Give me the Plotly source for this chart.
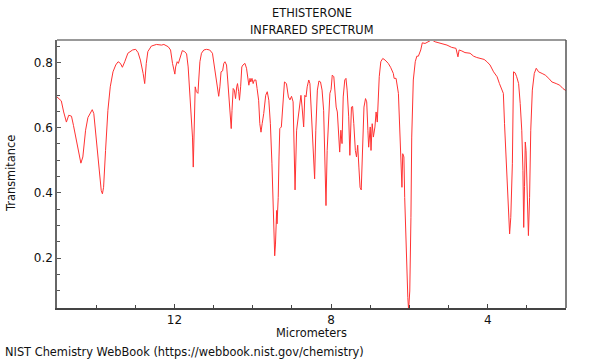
import plotly.graph_objects as go

# Wavelength (micrometers) and transmittance
wavelength_um = [
    15.00, 14.89, 14.83, 14.76, 14.70, 14.63, 14.58, 14.51, 14.44, 14.39, 14.34, 14.27, 14.21, 14.15, 14.10,
    14.06, 14.00, 13.93, 13.87, 13.84, 13.81, 13.76, 13.70, 13.64, 13.57, 13.50, 13.44, 13.38, 13.33, 13.27,
    13.19, 13.07, 12.99, 12.93, 12.87, 12.80, 12.76, 12.72, 12.68, 12.59, 12.46, 12.33, 12.27, 12.16, 12.10,
    12.05, 11.99, 11.97, 11.93, 11.90, 11.85, 11.80, 11.74, 11.69, 11.65, 11.61, 11.58, 11.54, 11.52, 11.50,
    11.47, 11.44, 11.40, 11.38, 11.35, 11.31, 11.25, 11.18, 11.10, 11.03, 10.99, 10.94, 10.90, 10.87, 10.84,
    10.81, 10.77, 10.74, 10.71, 10.67, 10.64, 10.60, 10.57, 10.55, 10.53, 10.50, 10.47, 10.44, 10.41, 10.39,
    10.36, 10.34, 10.31, 10.28, 10.25, 10.20, 10.16, 10.13, 10.10, 10.07, 10.05, 10.02, 9.99, 9.96, 9.92,
    9.89, 9.85, 9.82, 9.79, 9.76, 9.72, 9.67, 9.63, 9.59, 9.55, 9.51, 9.48, 9.44, 9.42, 9.39,
    9.38, 9.35, 9.33, 9.31, 9.27, 9.25, 9.22, 9.19, 9.14, 9.09, 9.05, 9.01, 8.97, 8.94, 8.92,
    8.88, 8.84, 8.80, 8.77, 8.74, 8.70, 8.67, 8.64, 8.61, 8.57, 8.54, 8.50, 8.46, 8.42, 8.39,
    8.35, 8.31, 8.27, 8.23, 8.19, 8.16, 8.13, 8.10, 8.06, 8.03, 8.00, 7.97, 7.93, 7.91, 7.87,
    7.84, 7.81, 7.78, 7.75, 7.72, 7.69, 7.65, 7.62, 7.59, 7.55, 7.52, 7.48, 7.45, 7.42, 7.38,
    7.35, 7.32, 7.29, 7.26, 7.23, 7.19, 7.16, 7.12, 7.09, 7.06, 7.04, 7.00, 6.98, 6.95, 6.92,
    6.88, 6.85, 6.82, 6.79, 6.77, 6.73, 6.68, 6.62, 6.54, 6.48, 6.41, 6.39, 6.34, 6.28, 6.26,
    6.22, 6.19, 6.17, 6.14, 6.12, 6.08, 6.04, 6.02, 5.99, 5.96, 5.94, 5.90, 5.85, 5.81, 5.77,
    5.71, 5.67, 5.60, 5.51, 5.43, 5.34, 5.26, 5.17, 5.04, 4.92, 4.81, 4.76, 4.73, 4.66, 4.58,
    4.45, 4.36, 4.28, 4.19, 4.09, 4.02, 3.94, 3.85, 3.76, 3.70, 3.64, 3.60, 3.57, 3.53, 3.51,
    3.48, 3.44, 3.41, 3.37, 3.34, 3.30, 3.26, 3.21, 3.17, 3.13, 3.10, 3.08, 3.06, 3.04, 3.02,
    2.98, 2.96, 2.93, 2.90, 2.86, 2.81, 2.76, 2.70, 2.61, 2.53, 2.44, 2.36, 2.25, 2.16, 2.08,
    2.00,
]
transmittance = [
    0.694, 0.682, 0.648, 0.617, 0.638, 0.635, 0.607, 0.561, 0.520, 0.491, 0.510, 0.592, 0.631, 0.643, 0.655,
    0.643, 0.571, 0.479, 0.407, 0.397, 0.417, 0.530, 0.653, 0.725, 0.771, 0.792, 0.802, 0.797, 0.785, 0.802,
    0.828, 0.838, 0.840, 0.830, 0.807, 0.766, 0.735, 0.797, 0.833, 0.850, 0.855, 0.853, 0.855, 0.848, 0.838,
    0.797, 0.764, 0.786, 0.802, 0.797, 0.817, 0.836, 0.833, 0.826, 0.786, 0.715, 0.674, 0.571, 0.479, 0.592,
    0.725, 0.710, 0.705, 0.746, 0.802, 0.828, 0.838, 0.840, 0.838, 0.828, 0.797, 0.756, 0.715, 0.696, 0.725,
    0.771, 0.774, 0.797, 0.802, 0.792, 0.746, 0.674, 0.612, 0.597, 0.653, 0.720, 0.715, 0.689, 0.725, 0.735,
    0.710, 0.684, 0.725, 0.786, 0.792, 0.797, 0.782, 0.761, 0.730, 0.751, 0.740, 0.751, 0.735, 0.746, 0.746,
    0.720, 0.684, 0.612, 0.586, 0.612, 0.643, 0.699, 0.710, 0.684, 0.612, 0.489, 0.356, 0.207, 0.243, 0.346,
    0.305, 0.386, 0.510, 0.597, 0.602, 0.643, 0.715, 0.740, 0.735, 0.694, 0.685, 0.696, 0.679, 0.540, 0.409,
    0.592, 0.633, 0.674, 0.699, 0.663, 0.602, 0.699, 0.694, 0.725, 0.746, 0.735, 0.643, 0.561, 0.443, 0.592,
    0.715, 0.743, 0.740, 0.715, 0.653, 0.510, 0.361, 0.530, 0.643, 0.705, 0.717, 0.761, 0.756, 0.715, 0.663,
    0.648, 0.592, 0.525, 0.592, 0.551, 0.694, 0.746, 0.751, 0.715, 0.633, 0.515, 0.663, 0.665, 0.612, 0.530,
    0.510, 0.546, 0.479, 0.417, 0.409, 0.530, 0.663, 0.689, 0.679, 0.592, 0.540, 0.602, 0.530, 0.612, 0.571,
    0.602, 0.648, 0.617, 0.684, 0.756, 0.802, 0.812, 0.807, 0.797, 0.785, 0.766, 0.751, 0.751, 0.705, 0.643,
    0.530, 0.417, 0.520, 0.510, 0.386, 0.202, 0.079, 0.041, 0.099, 0.325, 0.571, 0.746, 0.802, 0.819, 0.819,
    0.838, 0.860, 0.858, 0.863, 0.869, 0.863, 0.860, 0.858, 0.853, 0.846, 0.843, 0.817, 0.838, 0.835, 0.830,
    0.828, 0.819, 0.815, 0.812, 0.809, 0.802, 0.792, 0.771, 0.756, 0.735, 0.720, 0.705, 0.612, 0.510, 0.417,
    0.366, 0.274, 0.325, 0.489, 0.771, 0.768, 0.756, 0.735, 0.674, 0.592, 0.469, 0.294, 0.420, 0.556, 0.530,
    0.386, 0.269, 0.386, 0.592, 0.715, 0.766, 0.782, 0.771, 0.766, 0.761, 0.751, 0.740, 0.735, 0.730, 0.720,
    0.713,
]

x_tick_values = [12, 8, 4]
y_tick_values = [0.2, 0.4, 0.6, 0.8]

FONT = "DejaVu Sans, Liberation Sans, sans-serif"
FS = 11.4

fig = go.Figure()
fig.add_trace(go.Scatter(
    x=wavelength_um, y=transmittance, mode="lines",
    line=dict(color="rgb(255,50,50)", width=1),
    hoverinfo="x+y", showlegend=False,
))

fig.update_layout(
    width=600, height=360,
    margin=dict(l=57, r=34, t=40, b=52),
    paper_bgcolor="white", plot_bgcolor="white",
    font=dict(family=FONT, size=FS, color="#111"),
    showlegend=False,
    xaxis=dict(
        range=[15, 2.0], autorange=False,
        tickvals=x_tick_values, ticktext=[str(v) for v in x_tick_values],
        ticks="inside", ticklen=4, tickcolor="#444", tickwidth=1,
        minor=dict(dtick=1, tick0=0, ticks="inside", ticklen=3, tickcolor="#444", showgrid=False),
        showline=True, linecolor="#444", linewidth=1.5,
        showgrid=False, zeroline=False,
        tickfont=dict(family=FONT, size=12, color="#111"),
    ),
    yaxis=dict(
        range=[0.047, 0.8686], autorange=False,
        tickvals=y_tick_values, ticktext=["0.2", "0.4", "0.6", "0.8"],
        ticks="inside", ticklen=4, tickcolor="#555", tickwidth=1,
        minor=dict(dtick=0.05, tick0=0, ticks="inside", ticklen=3, tickcolor="#555", showgrid=False),
        showline=True, linecolor="#666", linewidth=1.5,
        showgrid=False, zeroline=False,
        tickfont=dict(family=FONT, size=12, color="#111"),
    ),
    shapes=[
        dict(type="line", xref="paper", yref="paper", x0=0, x1=1, y0=1, y1=1,
             line=dict(color="#999", width=2)),
        dict(type="line", xref="paper", yref="paper", x0=1, x1=1, y0=0, y1=1,
             line=dict(color="#555", width=1.5)),
    ],
    annotations=[
        dict(text="ETHISTERONE", x=0.5, y=1 + 27 / 268, xref="paper", yref="paper",
             xanchor="center", yanchor="middle", showarrow=False,
             font=dict(family=FONT, size=FS, color="#111")),
        dict(text="INFRARED SPECTRUM", x=0.5, y=1 + 10 / 268, xref="paper", yref="paper",
             xanchor="center", yanchor="middle", showarrow=False,
             font=dict(family=FONT, size=FS, color="#111")),
        dict(text="Micrometers", x=0.5, y=-25 / 268, xref="paper", yref="paper",
             xanchor="center", yanchor="middle", showarrow=False,
             font=dict(family=FONT, size=FS, color="#111")),
        dict(text="Transmitance", x=-46 / 509, y=0.5, xref="paper", yref="paper",
             xanchor="center", yanchor="middle", showarrow=False, textangle=-90,
             font=dict(family=FONT, size=FS, color="#111")),
        dict(text="NIST Chemistry WebBook (https://webbook.nist.gov/chemistry)",
             x=-54 / 509, y=-44 / 268, xref="paper", yref="paper",
             xanchor="left", yanchor="middle", showarrow=False,
             font=dict(family=FONT, size=FS, color="#111")),
    ],
)

fig.write_html(
    "out.html",
    config={"displayModeBar": False},
    post_script="document.body.style.margin='0';document.body.style.padding='0';",
)
